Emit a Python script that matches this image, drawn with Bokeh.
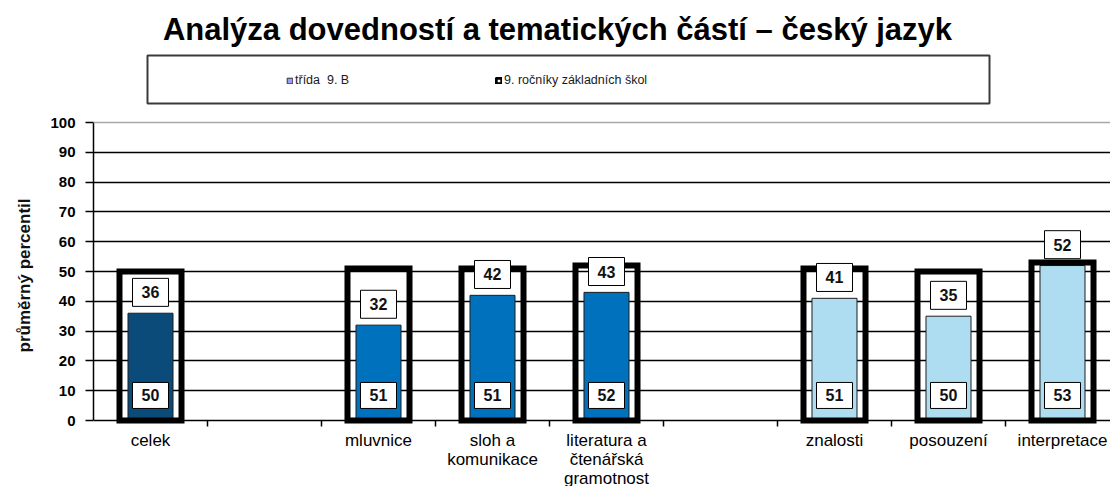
from bokeh.plotting import figure
from bokeh.models import (Range1d, FixedTicker, Span, Legend, LegendItem,
                          ColumnDataSource, Title)
from bokeh.core.properties import value
from bokeh.embed import file_html
from bokeh.resources import INLINE

# ---------------- data ----------------
title = "Analýza dovedností a tematických částí – český jazyk"
y_label = "průměrný percentil"
series_names = ["třída  9. B", "9. ročníky základních škol"]
# category slots along the x axis ("" = empty gap slot)
slots = ["celek", "", "mluvnice", "sloh a\nkomunikace",
         "literatura a\nčtenářská\ngramotnost", "", "znalosti",
         "posouzení", "interpretace"]
categories = [s for s in slots if s]
groups = ["celek", "tematické části", "tematické části", "tematické části",
          "dovednosti", "dovednosti", "dovednosti"]
class_9b = [36, 32, 42, 43, 41, 35, 52]
national = [50, 51, 51, 52, 51, 50, 53]
y_ticks = [0, 10, 20, 30, 40, 50, 60, 70, 80, 90, 100]

# ---------------- styles / geometry ----------------
group_colors = {"celek": "#0b4b79", "tematické části": "#0071bd",
                "dovednosti": "#aedcf1"}
FONT = "Liberation Sans"
FIG_W, FIG_H = 1110, 486
LEFT = 93            # frame left edge (px)
PX_PER_CAT = 114.0   # width of one category slot
PX_PER_UNIT = 2.98   # px per percentile unit
AXIS_Y = 420         # px of value 0


def dx(px):  # pixel -> data x
    return -0.5 + (px - LEFT) / PX_PER_CAT


def dy(py):  # pixel -> data y
    return (AXIS_Y - py) / PX_PER_UNIT


p = figure(width=FIG_W, height=FIG_H, output_backend="svg", toolbar_location=None,
           x_range=Range1d(-0.5, -0.5 + (FIG_W - LEFT) / PX_PER_CAT),
           y_range=Range1d(-(FIG_H - AXIS_Y) / PX_PER_UNIT, AXIS_Y / PX_PER_UNIT),
           min_border_left=LEFT, min_border_right=0, min_border_top=0,
           min_border_bottom=0)
p.outline_line_color = None
p.background_fill_color = "white"
p.border_fill_color = "white"

xs = [i for i, s in enumerate(slots) if s]
src = ColumnDataSource(dict(
    x=xs, cat=categories, cls=class_9b, nat=national,
    color=[group_colors[g] for g in groups],
    cls_txt=[str(v) for v in class_9b],
    nat_txt=[str(v) for v in national],
    cls_lbl=[v + 7 for v in class_9b],
    nat_lbl=[8.4] * len(national),
))

# grid
p.xgrid.visible = False
p.ygrid.ticker = FixedTicker(ticks=y_ticks[1:-1])
p.ygrid.grid_line_color = "black"
p.ygrid.grid_line_width = 1.5
p.add_layout(Span(location=100, dimension="width", line_color="#a8a8a8", line_width=1.5))

# title
p.text(x=[dx(557)], y=[dy(29)], text=[title], text_font=value(FONT),
       text_font_size="31px", text_font_style="bold", text_align="center",
       text_baseline="middle", text_color="black")

# legend box
p.rect(x=[dx(568)], y=[dy(79)], width=842, height=48, width_units="screen",
       height_units="screen", fill_color="white", line_color="#3a3a3a", line_width=2)

# bars
p.vbar(x="x", top="cls", bottom=0, width=0.395, fill_color="color",
       line_color="#1e1e1e", line_width=1, source=src)
p.vbar(x="x", top="nat", bottom=0, width=0.544, fill_color=None,
       line_color="black", line_width=6, line_join="miter", source=src)

# value labels
for ycol, tcol, h in (("cls_lbl", "cls_txt", 28), ("nat_lbl", "nat_txt", 26)):
    p.rect(x="x", y=ycol, width=36, height=h, width_units="screen",
           height_units="screen", fill_color="white", line_color="black",
           line_width=1, source=src)
    p.text(x="x", y=ycol, text=tcol, text_font=value(FONT), text_font_size="16px",
           text_font_style="bold", text_align="center", text_baseline="middle",
           text_color="#111111", source=src)

# legend (proxy renderers for swatches, placed outside the visible range)
r_cls = p.rect(x=[-50], y=[-500], width=1, height=1, fill_color="#9c9cff",
               line_color="#333333", line_width=1)
r_nat = p.rect(x=[-50], y=[-500], width=1, height=1, fill_color="white",
               line_color="black", line_width=3)
legend = Legend(items=[LegendItem(label=series_names[0], renderers=[r_cls]),
                       LegendItem(label=series_names[1], renderers=[r_nat])],
                orientation="horizontal", location=(193, FIG_H - 87),
                glyph_width=7, glyph_height=7, label_standoff=2, label_width=200,
                label_height=14, spacing=0, padding=0, margin=0,
                border_line_color=None, background_fill_alpha=0,
                label_text_font=FONT, label_text_font_size="12.5px",
                label_text_color="#1a1a1a")
p.add_layout(legend)

# y axis
ya = p.yaxis[0]
ya.ticker = FixedTicker(ticks=y_ticks)
ya.bounds = (0, 100)
ya.major_label_text_font = FONT
ya.major_label_text_font_size = "15px"
ya.major_label_text_font_style = "bold"
ya.major_label_text_color = "black"
ya.major_label_standoff = 10
ya.major_tick_out = 8
ya.major_tick_in = 0
ya.minor_tick_line_color = None
ya.axis_line_width = 1.5
ya.major_tick_line_width = 1.5

# y axis title as a side title, placed along the 0-100 span
p.add_layout(Title(text=y_label, align="left", offset=FIG_H - 352,
                   vertical_align="top",
                   text_font=FONT, text_font_size="17px", text_font_style="bold",
                   text_color="#111111", standoff=24), "left")

# x axis
xa = p.xaxis[0]
xa.fixed_location = 0
xa.ticker = FixedTicker(ticks=xs, minor_ticks=[i + 0.5 for i in range(len(slots) - 1)])
xa.major_label_overrides = {x: s for x, s in zip(xs, categories)}
xa.major_tick_out = 0
xa.major_tick_in = 0
xa.minor_tick_out = 6
xa.minor_tick_in = 0
xa.minor_tick_line_color = "black"
xa.minor_tick_line_width = 1.5
xa.axis_line_width = 1.5
xa.major_label_standoff = 4
xa.major_label_text_font = FONT
xa.major_label_text_font_size = "17px"
xa.major_label_text_line_height = 1.0
xa.major_label_text_color = "black"

open("out.html", "w").write(file_html(p, INLINE))
